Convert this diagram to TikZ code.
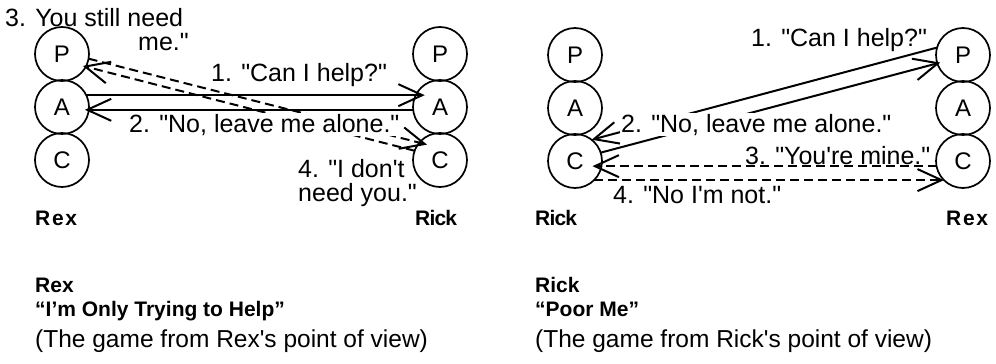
\documentclass[tikz,border=0pt]{standalone}
\usepackage{fontspec}
\newfontfamily\dg{Liberation Sans}
\usetikzlibrary{arrows.meta}
\begin{document}
\begin{tikzpicture}[x=1pt,y=-1pt,
  ego/.style={circle,draw,line width=1.7pt,minimum size=54pt,inner sep=0pt,outer sep=0pt,
    font=\dg\fontsize{24}{26}\selectfont},
  msg/.style={line width=2pt,-{Straight Barb[length=24pt,width=22pt]}},
  dmsg/.style={msg,dash pattern=on 9pt off 5pt},
  say/.style={anchor=base west,inner sep=1pt,font=\dg\fontsize{25}{28}\selectfont},
  cover/.style={say,fill=white},
  who/.style={anchor=base west,inner sep=0pt,font=\dg\bfseries\fontsize{21}{24}\selectfont},
  wide/.style={who,font=\dg\bfseries\fontsize{21}{24}\selectfont\addfontfeature{LetterSpace=8}},
  tight/.style={who,font=\dg\bfseries\fontsize{21}{24}\selectfont\addfontfeature{LetterSpace=-4}},
  note/.style={anchor=base west,inner sep=0pt,font=\dg\fontsize{24.5}{28}\selectfont}]
\useasboundingbox (0,0) rectangle (996,364);

% ---- Rex's view: Rex (left) and Rick (right)
\node[ego] (lP) at (62,54)  {P};
\node[ego] (lA) at (62,107) {A};
\node[ego] (lC) at (62,160) {C};
\node[ego] (rP) at (440,54)  {P};
\node[ego] (rA) at (440,107) {A};
\node[ego] (rC) at (440,160) {C};

\draw[msg,shorten >=-9pt] (lA.26) -- (rA.154);
\draw[msg,shorten >=-4pt] (rA.186) -- (lA.-6);
\draw[dmsg,shorten >=-8pt] (lP.-10) -- (rC.140);
\draw[dmsg,shorten >=-3pt] (rC.160) -- (lP.-28);

\node[say] (l3a) at (4,27)  {3. You still need};
\node[say] (l3b) at (137,50) {me."};
\node[say] (l1) at (210,81) {1. "Can I help?"};
\node[cover] (l2) at (128,132) {2. "No, leave me alone."};
\node[say] (l4a) at (297,177) {4. "I don't};
\node[say] (l4b) at (297,201) {need you."};
\node[wide] (lrex) at (35,225) {Rex};
\node[tight] (lrick) at (415,225) {Rick};

% ---- Rick's view: Rick (left) and Rex (right)
\node[ego] (sP) at (575,55)  {P};
\node[ego] (sA) at (575,108) {A};
\node[ego] (sC) at (575,161) {C};
\node[ego] (tP) at (963,55)  {P};
\node[ego] (tA) at (963,108) {A};
\node[ego] (tC) at (963,161) {C};

\draw[msg,shorten >=-3pt] (sC.18) -- (tP.198);
\draw[msg] (tP.164) -- (sC.52);
\draw[dmsg,shorten >=-9pt] (tC.191) -- (sC.-11);
\draw[dmsg] (sC.-45) -- (tC.225);

\node[say] (s1) at (750,46) {1. "Can I help?"};
\node[cover] (s2) at (620,132) {2. "No, leave me alone."};
\node[say] (s3) at (744,164) {3. "You're mine."};
\node[say] (s4) at (612,203) {4. "No I'm not."};
\node[tight] (srick) at (535,225) {Rick};
\node[wide] (srex) at (946,225) {Rex};

% ---- captions
\node[who] (c1a) at (35,292) {Rex};
\node[who] (c1b) at (35,316) {“I’m Only Trying to Help”};
\node[note] (c1c) at (35,347) {(The game from Rex's point of view)};
\node[who] (c2a) at (535,292) {Rick};
\node[who] (c2b) at (535,316) {“Poor Me”};
\node[note] (c2c) at (535,347) {(The game from Rick's point of view)};
\end{tikzpicture}
\end{document}
